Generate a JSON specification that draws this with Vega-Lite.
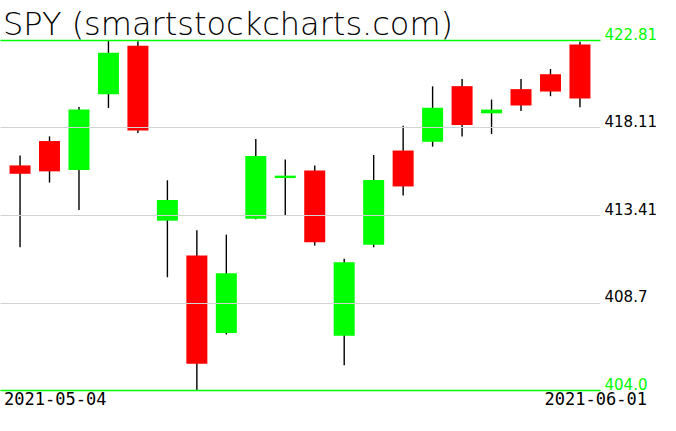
{
  "$schema": "https://vega.github.io/schema/vega-lite/v6.json",
  "autosize": {"type": "none"},
  "width": 600,
  "height": 350,
  "padding": {"left": 0, "top": 40, "right": 76, "bottom": 41},
  "background": "#ffffff",
  "config": {"view": {"stroke": null}},
  "title": {
    "text": "SPY (smartstockcharts.com)",
    "anchor": "start",
    "frame": "group",
    "font": "DejaVu Sans",
    "fontSize": 32,
    "fontWeight": 200,
    "color": "#000000",
    "baseline": "alphabetic",
    "offset": 2,
    "dx": 3,
    "dy": 42
  },
  "data": {
    "values": [
      {"date": "2021-05-04", "open": 416.07, "high": 416.60, "low": 411.67, "close": 415.62},
      {"date": "2021-05-05", "open": 417.38, "high": 417.63, "low": 415.15, "close": 415.75},
      {"date": "2021-05-06", "open": 415.83, "high": 419.21, "low": 413.68, "close": 419.07},
      {"date": "2021-05-07", "open": 419.89, "high": 422.81, "low": 419.16, "close": 422.12},
      {"date": "2021-05-10", "open": 422.50, "high": 422.74, "low": 417.81, "close": 417.94},
      {"date": "2021-05-11", "open": 413.10, "high": 415.27, "low": 410.06, "close": 414.21},
      {"date": "2021-05-12", "open": 411.23, "high": 412.59, "low": 404.00, "close": 405.41},
      {"date": "2021-05-13", "open": 407.07, "high": 412.35, "low": 406.98, "close": 410.28},
      {"date": "2021-05-14", "open": 413.21, "high": 417.49, "low": 413.18, "close": 416.58},
      {"date": "2021-05-17", "open": 415.39, "high": 416.39, "low": 413.36, "close": 415.52},
      {"date": "2021-05-18", "open": 415.80, "high": 416.06, "low": 411.77, "close": 411.94},
      {"date": "2021-05-19", "open": 406.92, "high": 411.05, "low": 405.33, "close": 410.86},
      {"date": "2021-05-20", "open": 411.80, "high": 416.63, "low": 411.67, "close": 415.28},
      {"date": "2021-05-21", "open": 416.87, "high": 418.20, "low": 414.45, "close": 414.94},
      {"date": "2021-05-24", "open": 417.34, "high": 420.32, "low": 417.08, "close": 419.17},
      {"date": "2021-05-25", "open": 420.33, "high": 420.71, "low": 417.62, "close": 418.24},
      {"date": "2021-05-26", "open": 418.87, "high": 419.61, "low": 417.76, "close": 419.07},
      {"date": "2021-05-27", "open": 420.17, "high": 420.72, "low": 418.99, "close": 419.29},
      {"date": "2021-05-28", "open": 420.97, "high": 421.25, "low": 419.79, "close": 420.04},
      {"date": "2021-06-01", "open": 422.57, "high": 422.72, "low": 419.20, "close": 419.67}
    ]
  },
  "encoding": {
    "x": {
      "field": "date",
      "type": "ordinal",
      "sort": null,
      "scale": {"type": "band", "paddingInner": 0.2875, "paddingOuter": 0.324},
      "axis": {
        "title": null,
        "values": ["2021-05-04", "2021-06-01"],
        "labelAngle": 0,
        "ticks": false,
        "tickSize": 0,
        "domain": false,
        "grid": false,
        "labelFont": "DejaVu Sans Mono",
        "labelFontSize": 17,
        "labelColor": "#000000",
        "labelBaseline": "top",
        "labelPadding": 1,
        "labelOverlap": false,
        "labelBound": false,
        "labelFlush": false,
        "labelAlign": {"condition": {"test": "datum.value == '2021-05-04'", "value": "left"}, "value": "right"},
        "labelOffset": {"condition": {"test": "datum.value == '2021-05-04'", "value": -16}, "value": 67}
      }
    },
    "y": {
      "type": "quantitative",
      "scale": {"domain": [404, 422.81], "nice": false, "zero": false},
      "axis": {
        "title": null,
        "orient": "right",
        "zindex": 1,
        "values": [404, 408.7025, 413.405, 418.1075, 422.81],
        "labelExpr": "datum.value < 405 ? '404.0' : datum.value < 410 ? '408.7' : datum.value < 415 ? '413.41' : datum.value < 420 ? '418.11' : '422.81'",
        "ticks": false,
        "tickSize": 0,
        "domain": false,
        "grid": true,
        "gridColor": {"condition": {"test": "datum.value < 405 || datum.value > 422", "value": "#00ff00"}, "value": "#d3d3d3"},
        "gridWidth": {"condition": {"test": "datum.value < 405 || datum.value > 422", "value": 1.6}, "value": 1.2},
        "gridOpacity": 1,
        "labelFont": "DejaVu Sans",
        "labelFontSize": 15,
        "labelColor": {"condition": {"test": "datum.value < 405 || datum.value > 422", "value": "#00ff00"}, "value": "#000000"},
        "labelBaseline": "alphabetic",
        "labelPadding": 4,
        "labelOffset": -1,
        "labelOverlap": false,
        "labelBound": false,
        "labelFlush": false
      }
    }
  },
  "layer": [
    {
      "mark": {"type": "rule", "color": "#000000", "strokeWidth": 1.4},
      "encoding": {
        "y": {"field": "low", "type": "quantitative"},
        "y2": {"field": "high"}
      }
    },
    {
      "mark": {"type": "bar"},
      "encoding": {
        "y": {"field": "open", "type": "quantitative"},
        "y2": {"field": "close"},
        "color": {
          "condition": {"test": "datum.close >= datum.open", "value": "#00ff00"},
          "value": "#ff0000"
        }
      }
    }
  ]
}
